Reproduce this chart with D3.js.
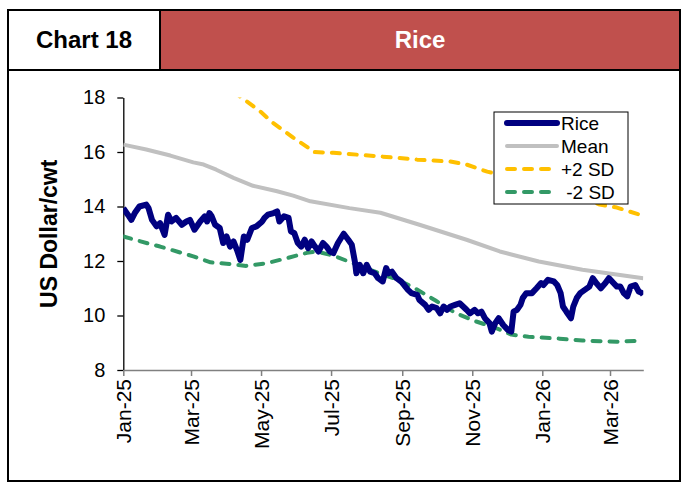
<!DOCTYPE html>
<html>
<head>
<meta charset="utf-8">
<script src="https://cdn.jsdelivr.net/npm/d3@7"></script>
<style>
  body { margin: 0; background: white; }
  text { font-family: Arial, "Liberation Sans", sans-serif; }
</style>
</head>
<body>
<svg id="chart" width="685" height="489"></svg>
<script>
"use strict";

// chart data
const chartNumber = "Chart 18"
const chartTitle = "Rice"
const yLabel = "US Dollar/cwt"
const yTicks = [8, 10, 12, 14, 16, 18]
const xTickDates = ["2025-01-01","2025-03-01","2025-05-01","2025-07-01","2025-09-01","2025-11-01","2026-01-01","2026-03-01"]
const seriesNames = ["Rice", "Mean", "+2 SD", " -2 SD"]

const riceDates = ["2025-01-01","2025-01-05","2025-01-08","2025-01-11","2025-01-15","2025-01-21","2025-01-23","2025-01-26","2025-01-30","2025-02-02",
  "2025-02-06","2025-02-09","2025-02-12","2025-02-16","2025-02-21","2025-02-25","2025-02-28","2025-03-04","2025-03-09","2025-03-13",
  "2025-03-15","2025-03-17","2025-03-19","2025-03-22","2025-03-26","2025-03-29","2025-04-01","2025-04-04","2025-04-07","2025-04-10",
  "2025-04-13","2025-04-16","2025-04-19","2025-04-23","2025-04-27","2025-05-02","2025-05-04","2025-05-07","2025-05-12","2025-05-15",
  "2025-05-17","2025-05-21","2025-05-25","2025-05-27","2025-05-30","2025-06-02","2025-06-05","2025-06-08","2025-06-11","2025-06-14",
  "2025-06-17","2025-06-20","2025-06-24","2025-06-27","2025-06-30","2025-07-03","2025-07-07","2025-07-12","2025-07-16","2025-07-19",
  "2025-07-22","2025-07-23","2025-07-26","2025-07-29","2025-08-01","2025-08-04","2025-08-08","2025-08-11","2025-08-15","2025-08-18",
  "2025-08-20","2025-08-23","2025-08-27","2025-08-31","2025-09-03","2025-09-06","2025-09-09","2025-09-14","2025-09-16","2025-09-21",
  "2025-09-24","2025-09-27","2025-10-01","2025-10-04","2025-10-07","2025-10-10","2025-10-13","2025-10-17","2025-10-21","2025-10-24",
  "2025-10-27","2025-10-30","2025-11-03","2025-11-06","2025-11-09","2025-11-12","2025-11-16","2025-11-18","2025-11-21","2025-11-24",
  "2025-11-28","2025-12-02","2025-12-05","2025-12-07","2025-12-10","2025-12-13","2025-12-15","2025-12-18","2025-12-23","2025-12-27",
  "2025-12-31","2026-01-02","2026-01-06","2026-01-11","2026-01-14","2026-01-17","2026-01-19","2026-01-22","2026-01-26","2026-01-28",
  "2026-01-31","2026-02-03","2026-02-07","2026-02-11","2026-02-14","2026-02-17","2026-02-21","2026-02-25","2026-02-28","2026-03-04",
  "2026-03-07","2026-03-10","2026-03-13","2026-03-16","2026-03-19","2026-03-23","2026-03-26","2026-03-29","2026-03-30"]
const riceValues = [13.94,13.70,13.51,13.76,14.00,14.07,13.94,13.51,13.27,13.39,
  12.96,13.70,13.45,13.58,13.33,13.45,13.51,13.15,13.45,13.64,
  13.45,13.76,13.64,13.33,13.21,12.66,12.90,12.53,12.72,12.41,
  12.04,12.90,12.78,13.21,13.27,13.45,13.58,13.70,13.76,13.82,
  13.45,13.64,13.58,13.09,13.02,12.66,12.53,12.78,12.47,12.72,
  12.53,12.35,12.66,12.53,12.35,12.29,12.66,13.00,12.78,12.60,
  11.92,11.55,11.86,11.55,11.86,11.61,11.55,11.37,11.25,11.74,
  11.55,11.61,11.37,11.25,11.10,10.94,10.82,10.76,10.57,10.39,
  10.21,10.33,10.27,10.08,10.33,10.21,10.33,10.39,10.45,10.33,
  10.21,10.08,10.21,10.08,10.14,9.90,9.72,9.41,9.72,9.90,
  9.65,9.47,9.41,10.14,10.21,10.39,10.64,10.82,10.82,11.00,
  11.19,11.12,11.31,11.25,11.12,10.82,10.33,10.14,9.90,10.33,
  10.64,10.82,10.94,11.06,11.37,11.19,11.00,11.19,11.37,11.19,
  11.06,11.06,10.82,10.70,11.06,11.12,10.88,10.82,10.76]

const meanDates = ["2025-01-01","2025-01-21","2025-02-11","2025-03-03","2025-03-12","2025-03-23","2025-04-07","2025-04-24","2025-05-15","2025-05-29",
  "2025-06-13","2025-07-17","2025-08-13","2025-09-16","2025-10-27","2025-11-25","2025-12-29","2026-02-05","2026-03-30"]
const meanValues = [16.27,16.09,15.87,15.62,15.54,15.35,15.05,14.76,14.56,14.40,
  14.19,13.94,13.77,13.33,12.78,12.35,11.98,11.68,11.37]

const upperDates = ["2025-01-01","2025-01-31","2025-03-03","2025-03-22","2025-04-01","2025-04-14","2025-04-30","2025-05-11","2025-05-29","2025-06-11",
  "2025-06-15","2025-07-03","2025-08-15","2025-09-14","2025-10-13","2025-10-27","2025-11-14","2025-12-17","2026-01-16","2026-02-05",
  "2026-02-20","2026-03-07","2026-03-30"]
const upperValues = [19.64,19.40,19.07,18.80,18.40,18.00,17.50,17.08,16.53,16.16,
  16.00,15.97,15.83,15.72,15.65,15.54,15.28,14.95,14.60,14.30,
  14.07,13.96,13.66]

const lowerDates = ["2025-01-01","2025-01-16","2025-02-02","2025-03-03","2025-03-18","2025-04-01","2025-04-18","2025-05-06","2025-05-23","2025-06-10",
  "2025-06-18","2025-07-03","2025-07-20","2025-08-15","2025-08-26","2025-09-12","2025-09-30","2025-10-17","2025-11-03","2025-11-21",
  "2025-12-05","2025-12-20","2026-01-16","2026-02-05","2026-03-07","2026-03-30"]
const lowerValues = [12.90,12.72,12.53,12.17,11.95,11.90,11.82,11.92,12.10,12.30,
  12.35,12.20,11.92,11.50,11.35,11.00,10.55,10.10,9.80,9.55,
  9.30,9.22,9.15,9.08,9.04,9.08]

const parseDate = d3.timeParse("%Y-%m-%d")
const toPoints = (dates, values) => dates.map((d, i) => ({date: parseDate(d), value: values[i]}))

const series = [
  {name: seriesNames[0], points: toPoints(riceDates, riceValues), color: "#000080", width: 6, dash: null},
  {name: seriesNames[1], points: toPoints(meanDates, meanValues), color: "#c0c0c0", width: 4, dash: null},
  {name: seriesNames[2], points: toPoints(upperDates, upperValues), color: "#ffc000", width: 4, dash: "8,9"},
  {name: seriesNames[3], points: toPoints(lowerDates, lowerValues), color: "#339966", width: 4, dash: "8,9"}
]

const svg = d3.select("#chart")

// frame and header
svg.append("rect")
  .attr("x", 8).attr("y", 10).attr("width", 672).attr("height", 471)
  .attr("fill", "white").attr("stroke", "black").attr("stroke-width", 2)
svg.append("rect")
  .attr("x", 160).attr("y", 10).attr("width", 520).attr("height", 60)
  .attr("fill", "#c0504d").attr("stroke", "black").attr("stroke-width", 2)
svg.append("rect")
  .attr("x", 8).attr("y", 10).attr("width", 152).attr("height", 60)
  .attr("fill", "white").attr("stroke", "black").attr("stroke-width", 2)
svg.append("text")
  .attr("x", 84).attr("y", 48)
  .attr("text-anchor", "middle")
  .attr("font-size", 24).attr("font-weight", "bold")
  .text(chartNumber)
svg.append("text")
  .attr("x", 420).attr("y", 48)
  .attr("text-anchor", "middle")
  .attr("font-size", 24).attr("font-weight", "bold")
  .attr("fill", "white")
  .text(chartTitle)

// plot area
const plot = {left: 123.3, right: 643.3, top: 97.5, bottom: 370}

const x = d3.scaleTime()
  .domain([parseDate("2025-01-01"), parseDate("2026-03-30")])
  .range([plot.left, plot.right])
const y = d3.scaleLinear()
  .domain([8, 18])
  .range([plot.bottom, plot.top])

svg.append("clipPath").attr("id", "plot-clip")
  .append("rect")
  .attr("x", plot.left).attr("y", plot.top)
  .attr("width", plot.right - plot.left).attr("height", plot.bottom - plot.top)

// y axis
let yAxis = svg.append("g")
  .attr("transform", "translate(" + plot.left + ",0)")
  .call(d3.axisLeft(y).tickValues(yTicks).tickSize(6).tickPadding(12).tickSizeOuter(0))
yAxis.select(".domain").attr("stroke", "black").attr("stroke-width", 1.3)
yAxis.selectAll(".tick line").attr("stroke", "black").attr("stroke-width", 1.3)
yAxis.selectAll(".tick text")
  .attr("font-size", 20).attr("fill", "black")
  .attr("font-family", "Arial, 'Liberation Sans', sans-serif")

svg.append("text")
  .attr("transform", "translate(57," + ((plot.top + plot.bottom) / 2) + ") rotate(-90)")
  .attr("text-anchor", "middle")
  .attr("font-size", 23).attr("font-weight", "bold")
  .text(yLabel)

// x axis
let xAxis = svg.append("g")
  .attr("transform", "translate(0," + plot.bottom + ")")
  .call(d3.axisBottom(x).tickValues(xTickDates.map(parseDate)).tickFormat(d3.timeFormat("%b-%y")).tickSize(6).tickSizeOuter(0))
xAxis.select(".domain").attr("stroke", "#808080").attr("stroke-width", 1.5)
xAxis.selectAll(".tick line").attr("stroke", "#808080").attr("stroke-width", 1.5)
xAxis.selectAll(".tick text")
  .attr("font-size", 21).attr("fill", "black")
  .attr("font-family", "Arial, 'Liberation Sans', sans-serif")
  .attr("transform", "rotate(-90)")
  .attr("text-anchor", "end")
  .attr("x", -9).attr("y", 0).attr("dy", "0.35em")

// lines
const line = d3.line()
  .x(d => x(d.date))
  .y(d => y(d.value))

let linesG = svg.append("g").attr("clip-path", "url(#plot-clip)")
series.slice().reverse().forEach(s => {
  linesG.append("path")
    .datum(s.points)
    .attr("d", line)
    .attr("fill", "none")
    .attr("stroke", s.color)
    .attr("stroke-width", s.width)
    .attr("stroke-linejoin", "round")
    .attr("stroke-linecap", s.dash ? "round" : "butt")
    .attr("stroke-dasharray", s.dash)
})

// legend
let legend = svg.append("g").attr("transform", "translate(494,112)")
legend.append("rect")
  .attr("width", 134).attr("height", 92)
  .attr("fill", "white").attr("stroke", "black").attr("stroke-width", 1)
series.forEach((s, i) => {
  let ly = 11 + i * 23
  legend.append("line")
    .attr("x1", 13).attr("x2", 63).attr("y1", ly).attr("y2", ly)
    .attr("stroke", s.color)
    .attr("stroke-width", s.width)
    .attr("stroke-linecap", "round")
    .attr("stroke-dasharray", s.dash)
  legend.append("text")
    .attr("x", 67).attr("y", ly).attr("dy", "0.36em")
    .attr("font-size", 19)
    .style("white-space", "pre")
    .text(s.name)
})
</script>
</body>
</html>
